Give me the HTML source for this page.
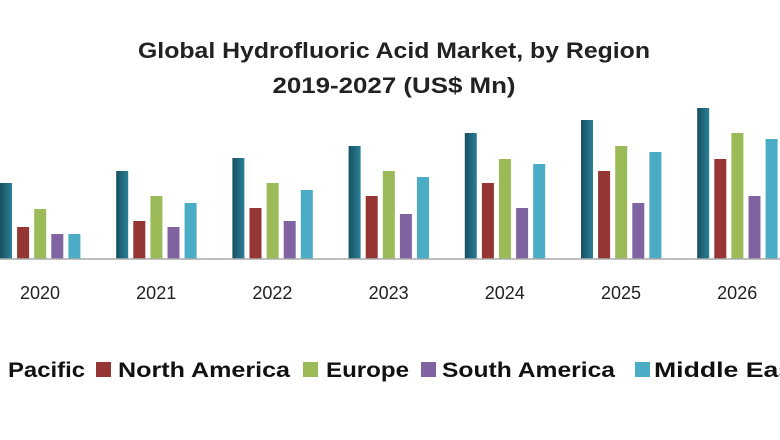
<!DOCTYPE html>
<html><head><meta charset="utf-8"><style>
html,body{margin:0;padding:0;background:#fff;width:780px;height:440px;overflow:hidden}
text{font-family:"Liberation Sans",sans-serif}
</style></head><body>
<svg width="780" height="440" viewBox="0 0 780 440">
<defs>
<linearGradient id="apg" x1="0" x2="1"><stop offset="0" stop-color="#174f60"/><stop offset="1" stop-color="#2a8098"/></linearGradient>
</defs>
<text x="394" y="58" text-anchor="middle" font-size="22" font-weight="bold" fill="#222" textLength="512" lengthAdjust="spacingAndGlyphs">Global Hydrofluoric Acid Market, by Region</text>
<text x="394" y="93" text-anchor="middle" font-size="22" font-weight="bold" fill="#222" textLength="243" lengthAdjust="spacingAndGlyphs">2019-2027 (US$ Mn)</text>
<g id="bars"></g>
<line x1="0" y1="259" x2="780" y2="259" stroke="#aaa" stroke-width="1.5"/>
<g id="xlabels"></g>
<g>
<text x="8" y="377" font-size="21" font-weight="bold" fill="#111" textLength="77" lengthAdjust="spacingAndGlyphs">Pacific</text>
<rect x="96" y="362" width="15" height="15" fill="#963634"/>
<text x="118" y="377" font-size="21" font-weight="bold" fill="#111" textLength="172" lengthAdjust="spacingAndGlyphs">North America</text>
<rect x="303" y="362" width="15" height="15" fill="#9bbb59"/>
<text x="326" y="377" font-size="21" font-weight="bold" fill="#111" textLength="83" lengthAdjust="spacingAndGlyphs">Europe</text>
<rect x="421" y="362" width="15" height="15" fill="#8064a2"/>
<text x="442" y="377" font-size="21" font-weight="bold" fill="#111" textLength="173" lengthAdjust="spacingAndGlyphs">South America</text>
<rect x="635" y="362" width="15" height="15" fill="#4bacc6"/>
<text x="654" y="377" font-size="21" font-weight="bold" fill="#111" textLength="148" lengthAdjust="spacingAndGlyphs">Middle East</text>
</g>
</svg>
<script>
const years = ["2019","2020","2021","2022","2023","2024","2025","2026","2027"];
const asiaPacific   = [64,76,88,101,113,126,139,151,164];
const northAmerica  = [26,32,38,51,63,76,88,100,113];
const europe        = [38,50,63,76,88,100,113,126,138];
const southAmerica  = [20,25,32,38,45,51,56,63,69];
const middleEast    = [20,25,56,69,82,95,107,120,133];
const seriesNames = ["asia-pacific","north-america","europe","south-america","middle-east"];
const colors = ["url(#apg)","#963634","#9bbb59","#8064a2","#4bacc6"];
const series = [asiaPacific,northAmerica,europe,southAmerica,middleEast];
const NS="http://www.w3.org/2000/svg";
const baseY=259, groupW=116.2, firstX=-116.2, barW=12, pitch=17.1;
function xGroup(i){return firstX+i*groupW;}
function yScale(v){return baseY-v;}
const g=document.getElementById("bars"), xl=document.getElementById("xlabels");
years.forEach((yr,i)=>{
  series.forEach((s,j)=>{
    const r=document.createElementNS(NS,"rect");
    r.setAttribute("x",xGroup(i)+j*pitch);
    r.setAttribute("y",yScale(s[i]));
    r.setAttribute("width",barW);
    r.setAttribute("height",baseY-yScale(s[i]));
    r.setAttribute("fill",colors[j]);
    
    
    g.appendChild(r);
  });
  const t=document.createElementNS(NS,"text");
  t.setAttribute("x",xGroup(i)+40);
  t.setAttribute("y",299);
  t.setAttribute("text-anchor","middle");
  t.setAttribute("font-size","18");
  t.setAttribute("fill","#222");
  t.textContent=yr;
  
  
  xl.appendChild(t);
});
</script>
</body></html>
